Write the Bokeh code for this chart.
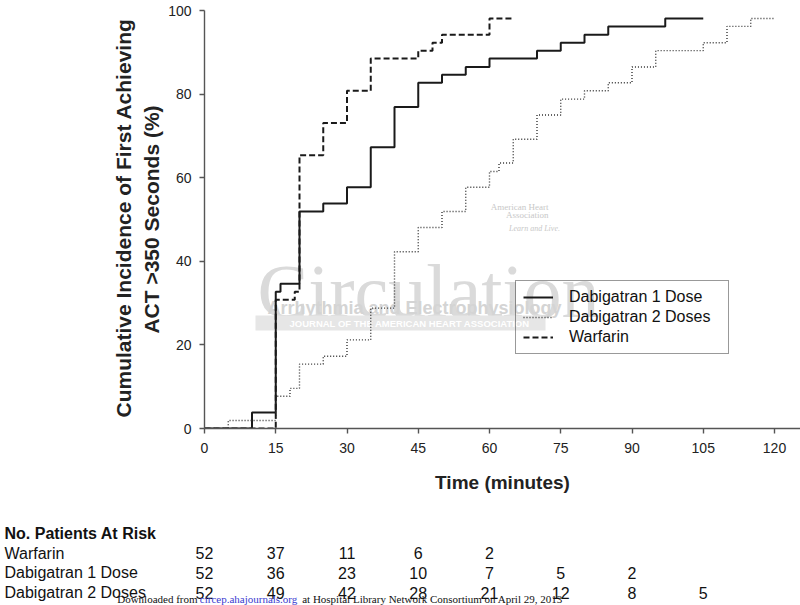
import numpy as np
from bokeh.plotting import figure
from bokeh.models import (Range1d, Label, Legend, LegendItem, BoxAnnotation,
                          FixedTicker, Title)
from bokeh.layouts import column, row
from bokeh.embed import file_html
from bokeh.resources import INLINE
from bokeh.core.properties import value

# ---------------- data ----------------
dose1_t = [0, 10, 15, 16, 20, 25, 30, 35, 40, 45, 50, 55, 60, 70, 75, 80, 85, 97, 105]
dose1_y = [0, 3.8, 32.7, 34.6, 51.9, 53.8, 57.7, 67.3, 76.9, 82.7, 84.6, 86.5, 88.5,
           90.4, 92.3, 94.2, 96.2, 98.1, 98.1]

dose2_t = [0, 5, 15, 18, 20, 25, 30, 35, 40, 45, 50, 55, 60, 62, 65, 70, 75, 80, 85,
           90, 95, 105, 110, 115, 120]
dose2_y = [0, 1.9, 7.7, 9.6, 15.4, 17.3, 21.2, 28.8, 42.3, 48.1, 51.9, 57.7, 61.5,
           63.5, 69.2, 75.0, 78.8, 80.8, 82.7, 86.5, 90.4, 92.3, 96.2, 98.1, 98.1]

warf_t = [0, 15, 19, 20, 25, 30, 35, 45, 48, 50, 60, 65]
warf_y = [0, 30.8, 32.7, 65.4, 73.1, 80.8, 88.5, 90.4, 92.3, 94.2, 98.1, 98.1]

series_labels = ["Dabigatran 1 Dose", "Dabigatran 2 Doses", "Warfarin"]

x_ticks = [0, 15, 30, 45, 60, 75, 90, 105, 120]
y_ticks = [0, 20, 40, 60, 80, 100]

risk_times = [0, 15, 30, 45, 60, 75, 90, 105]
risk_warf = [52, 37, 11, 6, 2]
risk_d1 = [52, 36, 23, 10, 7, 5, 2]
risk_d2 = [52, 49, 42, 28, 21, 12, 8, 5]
risk_rows = ["Warfarin", "Dabigatran 1 Dose", "Dabigatran 2 Doses"]
risk_title = "No. Patients At Risk"

y_title = ["Cumulative Incidence of First Achieving", "ACT >350 Seconds (%)"]
x_title = "Time (minutes)"

# ---------------- geometry ----------------
PXM = 4.75            # pixels per minute
LEFT = 204            # canvas px of frame left
FW = 596
TOP = 10
FH = 418
BOTTOM = 77
X_END = FW / PXM


def tx(page_x):
    """page pixel x -> minutes"""
    return (page_x - LEFT) / PXM


def vy(page_y):
    """page pixel y -> percent (main plot)"""
    return 100 * (TOP + FH - page_y) / FH


SANS = value("Liberation Sans")

p = figure(frame_width=FW, frame_height=FH, min_border_left=LEFT, min_border_right=0,
           min_border_top=TOP, min_border_bottom=BOTTOM,
           x_range=Range1d(0, X_END), y_range=Range1d(0, 100),
           output_backend="svg", toolbar_location=None)
p.outline_line_color = None
p.xgrid.visible = False
p.ygrid.visible = False
p.background_fill_color = "white"
p.border_fill_color = "white"

for ax in (p.xaxis[0], p.yaxis[0]):
    ax.axis_line_color = "#555555"
    ax.axis_line_width = 1.4
    ax.major_tick_line_color = "#555555"
    ax.major_tick_line_width = 1.4
    ax.major_tick_out = 5
    ax.major_tick_in = 0
    ax.minor_tick_line_color = None
    ax.major_label_text_font = "Liberation Sans"
    ax.major_label_text_font_size = "14px"
    ax.major_label_text_color = "#222222"
p.xaxis.ticker = FixedTicker(ticks=x_ticks)
p.yaxis.ticker = FixedTicker(ticks=y_ticks)
p.xaxis.major_label_standoff = 9
p.yaxis.major_label_standoff = 8
p.xaxis.axis_label = x_title
p.xaxis.axis_label_text_font = "Liberation Sans"
p.xaxis.axis_label_text_font_style = "bold"
p.xaxis.axis_label_text_font_size = "19px"
p.xaxis.axis_label_text_color = "#222222"
p.xaxis.axis_label_standoff = 16

# y title: two stacked side titles (inner line first)
t_line2 = Title(text=y_title[1], align="center", text_font="Liberation Sans",
                text_font_style="bold", text_font_size="21px", text_color="#222222",
                standoff=6)
t_line1 = Title(text=y_title[0], align="left", offset=11, text_font="Liberation Sans",
                text_font_style="bold", text_font_size="21px", text_color="#222222",
                standoff=0)
p.add_layout(t_line2, "left")
p.add_layout(t_line1, "left")

# ---------------- watermark (underlay) ----------------
wm = "#dadada"
p.add_layout(Label(x=tx(257), y=vy(290), text="Circulation", text_font="Liberation Serif",
                   text_font_size="76px", text_color=wm, text_baseline="alphabetic",
                   level="underlay"))
p.add_layout(Label(x=tx(267), y=vy(307), text="Arrhythmia and Electrophysiology",
                   text_font="Liberation Sans", text_font_style="bold",
                   text_font_size="18px", text_color="#d4d4d4",
                   text_baseline="alphabetic", level="underlay"))
p.add_layout(BoxAnnotation(left=tx(255), right=tx(545), top=vy(315), bottom=vy(330),
                           fill_color="#e6e6e6", fill_alpha=1, line_color=None,
                           level="underlay"))
p.add_layout(Label(x=tx(289), y=vy(322.5), text="JOURNAL OF THE AMERICAN HEART ASSOCIATION",
                   text_font="Liberation Sans", text_font_style="bold",
                   text_font_size="9.5px", text_color="white", text_baseline="middle",
                   level="underlay"))
p.add_layout(Label(x=tx(548), y=vy(206), text="American Heart", text_font="Liberation Serif",
                   text_font_size="9px", text_color="#c8c8c8", text_align="right",
                   text_baseline="middle", level="underlay"))
p.add_layout(Label(x=tx(548), y=vy(214), text="Association", text_font="Liberation Serif",
                   text_font_size="9px", text_color="#c8c8c8", text_align="right",
                   text_baseline="middle", level="underlay"))
p.add_layout(Label(x=tx(534), y=vy(228), text="Learn and Live.", text_font="Liberation Serif",
                   text_font_style="italic", text_font_size="8px", text_color="#c8c8c8",
                   text_align="center", text_baseline="middle", level="underlay"))

# ---------------- curves ----------------
r1 = p.step(dose1_t, dose1_y, mode="after", line_color="#1a1a1a", line_width=2)
r2 = p.step(dose2_t, dose2_y, mode="after", line_color="#333333", line_width=1.4,
            line_dash="1 2")
r3 = p.step(warf_t, warf_y, mode="after", line_color="#1a1a1a", line_width=2,
            line_dash="6 3")

legend = Legend(items=[LegendItem(label=series_labels[0], renderers=[r1]),
                       LegendItem(label=series_labels[1], renderers=[r2]),
                       LegendItem(label=series_labels[2], renderers=[r3])],
                location=(311, 74))
legend.label_text_font = "Liberation Sans"
legend.label_text_font_size = "16px"
legend.label_text_color = "#111111"
legend.border_line_color = "#333333"
legend.border_line_width = 1.2
legend.background_fill_alpha = 0
legend.glyph_width = 30
legend.glyph_height = 18
legend.label_height = 18
legend.label_width = 152
legend.label_standoff = 16
legend.padding = 7
legend.spacing = 2
legend.margin = 0
p.add_layout(legend)

# ---------------- risk table ----------------
TH = 100
t2 = figure(width=800, height=TH, x_range=Range1d(tx(0), tx(800)),
            y_range=Range1d(TH, 0), min_border=0, min_border_left=0,
            min_border_right=0, min_border_top=0, min_border_bottom=0,
            x_axis_location=None, y_axis_location=None,
            output_backend="svg", toolbar_location=None)
t2.outline_line_color = None
t2.xgrid.visible = False
t2.ygrid.visible = False
t2.border_fill_color = "white"

row_y0 = 28
row_dy = 19.7
x_left = tx(4)

t2.text(x=[x_left], y=[row_y0], text=[risk_title], text_font=SANS,
        text_font_style="bold", text_font_size="16px", text_color="#111111",
        text_align="left", text_baseline="middle")
for i, (name, counts) in enumerate(zip(risk_rows, [risk_warf, risk_d1, risk_d2])):
    yy = row_y0 + row_dy * (i + 1)
    t2.text(x=[x_left], y=[yy], text=[name], text_font=SANS, text_font_size="16px",
            text_color="#111111", text_align="left", text_baseline="middle")
    t2.text(x=risk_times[:len(counts)], y=[yy] * len(counts),
            text=[str(c) for c in counts], text_font=SANS, text_font_size="16px",
            text_color="#111111", text_align="center", text_baseline="middle")

foot_y = 93
SERIF = value("Liberation Serif")
t2.text(x=[tx(116.7)], y=[foot_y], text=["Downloaded from "], text_font=SERIF,
        text_font_size="11px", text_color="#111111", text_align="left",
        text_baseline="middle")
t2.text(x=[tx(199.3)], y=[foot_y], text=["circep.ahajournals.org"], text_font=SERIF,
        text_font_size="11px", text_color="#3a3ad0", text_align="left",
        text_baseline="middle")
t2.text(x=[tx(301.7)], y=[foot_y],
        text=["at Hospital Library Network Consortium on April 29, 2013"],
        text_font=SERIF, text_font_size="11px", text_color="#111111",
        text_align="left", text_baseline="middle")

layout = column(p, row(t2), spacing=0)
open("out.html", "w").write(file_html(layout, INLINE))
